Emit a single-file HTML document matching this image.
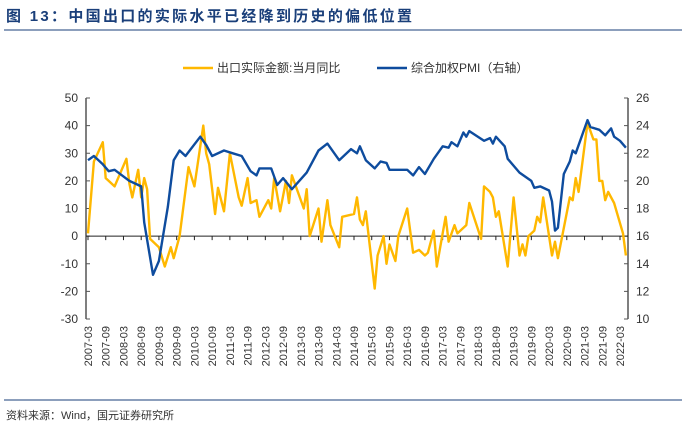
<!DOCTYPE html>
<html><head><meta charset="utf-8">
<style>
body{margin:0;background:#fff;width:686px;height:432px;overflow:hidden;font-family:"Liberation Sans","Noto Sans CJK SC",sans-serif;}
</style></head>
<body>
<svg id="c" width="686" height="432" xmlns="http://www.w3.org/2000/svg">
<text x="6" y="21" font-size="15" letter-spacing="2.3" font-weight="bold" fill="#1a3f7a" font-family="Liberation Sans, Noto Sans CJK SC, sans-serif">图 13：中国出口的实际水平已经降到历史的偏低位置</text>
<line x1="4" y1="30" x2="682" y2="30" stroke="#1a3f7a" stroke-width="1"/>
<g font-size="12" fill="#333" font-family="Liberation Sans, Noto Sans CJK SC, sans-serif">
<g><line x1="183" y1="68" x2="213" y2="68" stroke="#FFB800" stroke-width="2.5"/><text x="217" y="72">出口实际金额:当月同比</text></g>
<g><line x1="377" y1="68" x2="407" y2="68" stroke="#0E4C9E" stroke-width="2.5"/><text x="411" y="72">综合加权PMI（右轴）</text></g>
</g>
<g id="axes"></g>
<g id="marks"></g>
<line x1="4" y1="400" x2="682" y2="400" stroke="#1a3f7a" stroke-width="1"/>
<text x="6" y="419" font-size="11" fill="#333" font-family="Liberation Sans, Noto Sans CJK SC, sans-serif">资料来源：Wind，国元证券研究所</text>
</svg>
<script>
const exportMonths=[0,2,5,6,7,9,13,14,15,17,18,19,20,21,24,26,28,29,31,34,36,39,40,41,43,44,46,48,51,52,54,55,57,58,61,62,63,65,67,68,69,73,74,75,78,79,81,82,85,86,90,91,92,93,94,97,98,100,101,102,104,105,108,110,112,114,115,117,118,121,122,124,125,128,129,133,134,136,137,138,139,142,144,146,147,148,149,151,152,153,154,157,158,159,163,164,165,166,169,171,172,173,174,175,176,178,181,182];
const exportValues=[1,27,34,21,20,18,28,19,14,24,14,21,17,-1,-4,-11,-4,-8,0,25,18,40,30,26,8,17.5,9,30,14,11,21,12,13,7,13,10,21,9,20,12,22,10,17,0,10,-2,13,4,-4,7,8,14,6,4,9,-19,-7,0,-10,-3,-9,0,10,-6,-5,-7,-6,2,-11,7,-2,4,1,4,12,-1,18,16,14,7,9,-11,14,-7,-3,-7,0,2,7,5,14,-7,-2,-8,14,13,21,16,41,35,35,20,20,13,16,12,1,-7];
const pmiMonths=[0,2,5,7,9,14,18,19,22,24,27,29,31,33,38,40,42,46,49,52,55,57,58,62,64,66,69,74,78,81,85,89,91,92,94,97,99,101,102,106,108,110,112,114,117,120,122,123,125,127,128,129,134,136,137,138,141,142,146,150,151,153,156,157,158,159,161,163,164,165,169,170,173,175,177,178,180,182];
const pmiValues=[21.5,21.8,21.2,20.7,20.8,20.0,19.6,17,13.2,14.2,18.1,21.5,22.2,21.8,23.2,22.6,21.8,22.2,22.0,21.8,20.7,20.4,20.9,20.9,19.7,20.2,19.4,20.6,22.2,22.7,21.5,22.3,22.0,22.5,21.5,20.9,21.4,21.3,20.8,20.8,20.8,20.4,21.0,20.5,21.6,22.5,22.4,22.8,22.5,23.5,23.2,23.6,22.9,23.1,22.7,23.2,22.5,21.6,20.6,20.0,19.5,19.6,19.3,18.5,16.4,16.6,20.5,21.4,22.2,22.0,24.4,23.9,23.7,23.3,23.8,23.2,22.9,22.4];
const leftTicks=[50,40,30,20,10,0,-10,-20,-30];
const rightTicks=[26,24,22,20,18,16,14,12,10];
const xLabels=[];for(let y=2007;y<=2022;y++){xLabels.push(y+"-03");if(y<2022)xLabels.push(y+"-09");}

const NS="http://www.w3.org/2000/svg";
const X0=88,X1=620,YT=98,YB=319;
const xs=m=>X0+(X1-X0)*m/180;
const yl=v=>YB-(v+30)/80*(YB-YT);
const yr=v=>YB-(v-10)/16*(YB-YT);
function mk(t,a,p){const e=document.createElementNS(NS,t);for(const k in a)e.setAttribute(k,a[k]);p.appendChild(e);return e;}
const ax=document.getElementById('axes'),mg=document.getElementById('marks');
const la=mk('line',{x1:86,y1:YT,x2:86,y2:YB,stroke:'#555','stroke-width':1.5},ax);


const ra=mk('line',{x1:628,y1:YT,x2:628,y2:YB,stroke:'#555','stroke-width':1.5},ax);


leftTicks.forEach(v=>{const y=yl(v);mk('line',{x1:86,y1:y,x2:90,y2:y,stroke:'#555'},ax);
const t=mk('text',{x:78,y:y+4,'text-anchor':'end','font-size':12,fill:'#333'},ax);t.textContent=v;

});
rightTicks.forEach(v=>{const y=yr(v);mk('line',{x1:624,y1:y,x2:628,y2:y,stroke:'#555'},ax);
const t=mk('text',{x:636,y:y+4,'font-size':12,fill:'#333'},ax);t.textContent=v;

});
const za=mk('line',{x1:86,y1:yl(0),x2:628,y2:yl(0),stroke:'#222','stroke-width':1},ax);


xLabels.forEach((s,i)=>{const x=xs(i*6);mk('line',{x1:x,y1:yl(0),x2:x,y2:yl(0)+4,stroke:'#222'},ax);
const t=mk('text',{x:0,y:0,'text-anchor':'end','font-size':11,fill:'#333',transform:`translate(${x+4},326) rotate(-90)`},ax);t.textContent=s;

});
function line(ms,vs,f,c,n){const d=ms.map((m,i)=>(i?'L':'M')+xs(m).toFixed(1)+','+f(vs[i]).toFixed(1)).join('');
const p=mk('path',{d:d,fill:'none',stroke:c,'stroke-width':2.4,'stroke-linejoin':'round'},mg);

}
line(exportMonths,exportValues,yl,'#FFB800','export-yoy-line');
line(pmiMonths,pmiValues,yr,'#0E4C9E','pmi-line');
</script>
</body></html>
